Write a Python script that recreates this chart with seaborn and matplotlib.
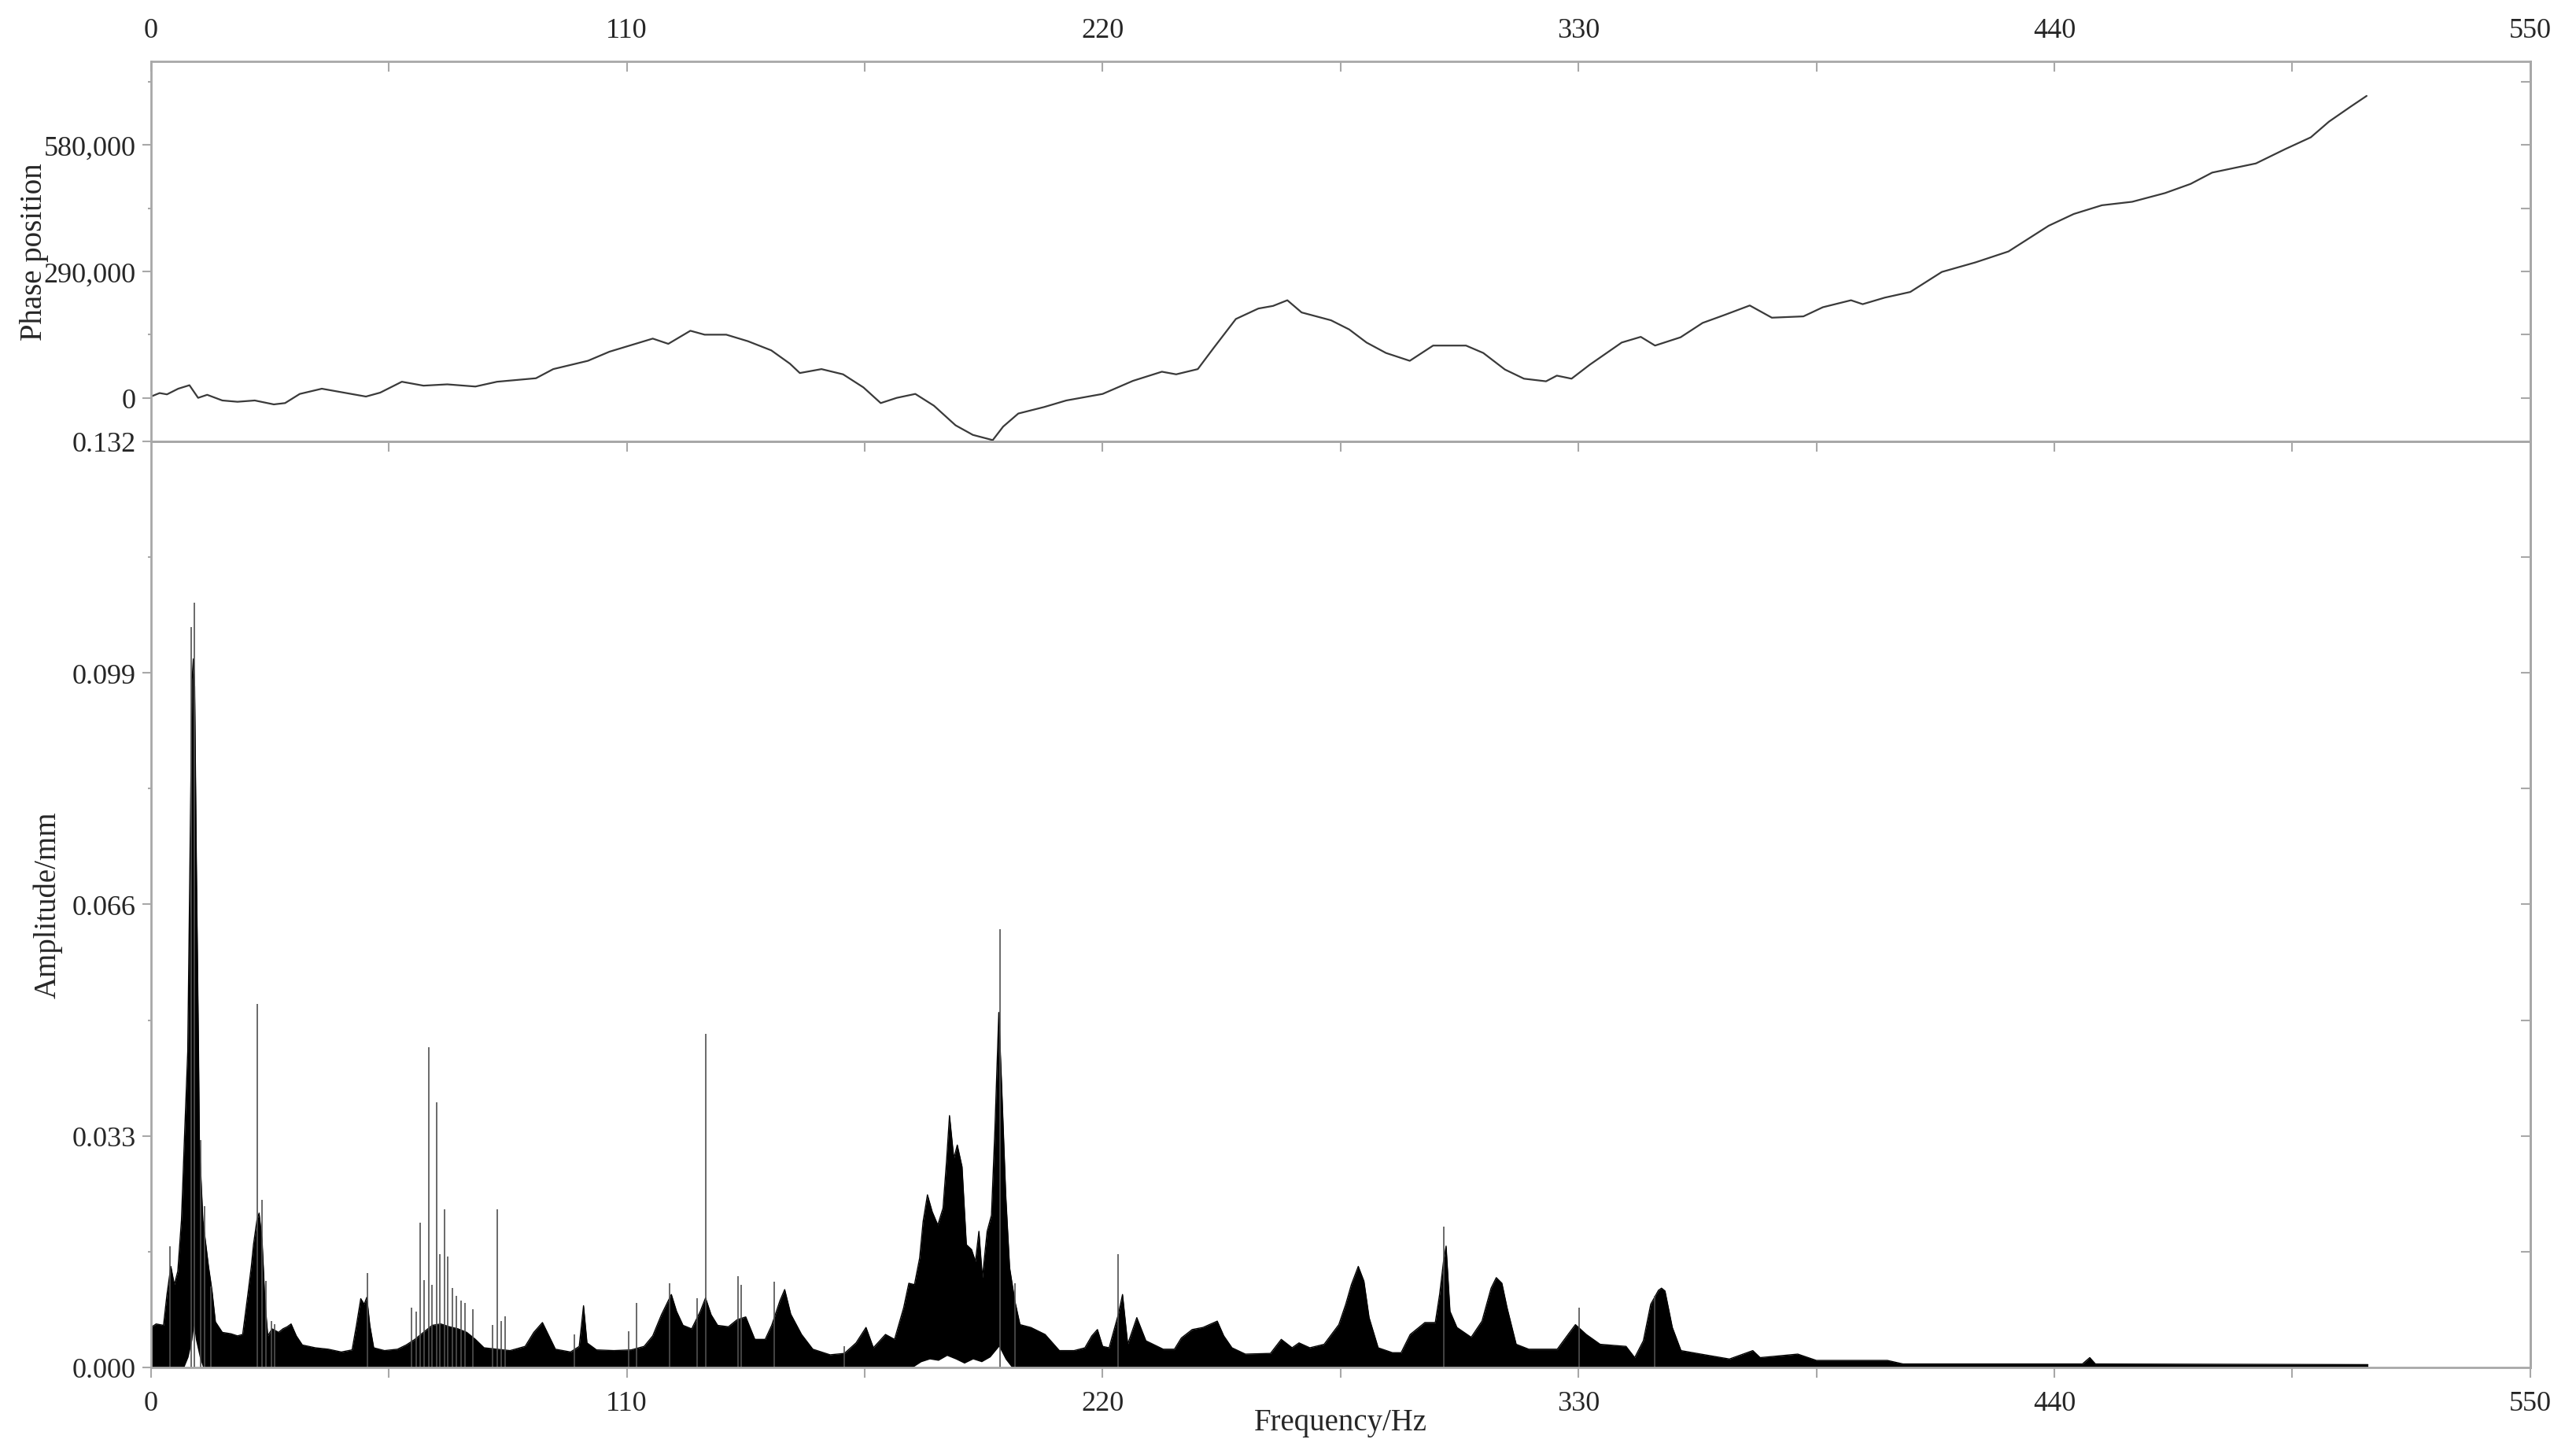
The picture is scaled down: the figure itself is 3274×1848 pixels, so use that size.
import numpy as np
import pandas as pd
import matplotlib
matplotlib.use('Agg')
import matplotlib.pyplot as plt
from matplotlib.ticker import FixedLocator, NullFormatter
import seaborn as sns

# ---- data ----
# phase curve (top panel)
phase_freq = [0, 2, 3.7, 6.3, 8.9, 10.9, 13, 16.5, 20, 24, 28.4, 31, 34.4, 39.5, 44.6, 49.7,
              53, 58, 63, 68.5, 75, 80, 89, 93, 101, 106, 111, 116, 119.6, 124.7, 128, 133,
              138, 143.4, 147.7, 150, 155, 160, 164.7, 168.7, 172.4, 176.7, 181, 186, 190,
              194.6, 197, 200.5, 206.5, 211.6, 220, 227, 233.7, 237, 242, 245.7, 250.8, 256,
              259.4, 262.7, 266, 272.8, 277, 281, 285.5, 291, 296.4, 304, 308, 313, 317.4,
              322.5, 325, 328.4, 332.6, 340, 344.4, 347.7, 353.6, 358.7, 363.7, 369.6, 374.7,
              382, 386.5, 393, 395.7, 400.8, 406.7, 414, 421.8, 429.4, 438.7, 444.5, 451, 458,
              465.6, 471.5, 476.5, 486.6, 493.4, 499.3, 503.5, 508.6, 512.2]
phase_val = [3000, 11000, 8000, 21000, 29000, 0, 7000, -6000, -9000, -6000, -15000, -12000,
             9000, 21000, 12000, 3000, 12000, 37000, 28000, 31000, 26000, 37000, 45000, 66000,
             85000, 106000, 121000, 136000, 124000, 154000, 145000, 145000, 130000, 109000,
             78500, 57000, 66000, 54000, 24000, -12000, 0, 9000, -18000, -63000, -85000,
             -97000, -66000, -36000, -21000, -6000, 9000, 39000, 60000, 54000, 66000, 115000,
             181000, 205000, 211000, 224000, 196000, 178000, 157000, 127000, 103000, 85000,
             120000, 120000, 103000, 65000, 44000, 38000, 51000, 44000, 76000, 127000, 140000,
             120000, 139000, 172000, 190000, 212000, 184000, 187000, 208000, 224000, 215000,
             230000, 243000, 289000, 311000, 336000, 395000, 422000, 442000, 450000, 470000,
             491000, 517000, 538000, 571000, 598000, 634000, 669000, 693000]

# amplitude spectrum: upper envelope of the dense black trace
env_freq = [0.0, 1.2, 2.9, 3.7, 4.6, 5.4, 6.2, 7.05, 7.7, 8.5, 9.0, 9.5, 9.8, 10.1, 10.5, 11.0,
            11.2, 12.0, 13.3, 14.1, 14.9, 16.5, 18.5, 20.0, 21.2, 22.4, 23.2, 23.7, 24.5, 25.0,
            25.7, 26.3, 27.0, 28.0, 29.5, 30.5, 31.5, 32.4, 33.6, 35.0, 38.0, 41.0, 44.0, 46.5,
            47.5, 48.5, 49.3, 49.9, 50.6, 51.5, 54.0, 57.0, 59.0, 61.0, 63.0, 65.0, 67.0, 69.0,
            71.0, 73.0, 75.0, 77.0, 80.0, 83.0, 86.5, 88.5, 90.5, 92.0, 93.5, 97.0, 99.0, 100.0,
            100.8, 103.0, 107.0, 111.0, 114.0, 116.0, 118.0, 120.3, 121.5, 123.0, 125.0, 127.0,
            128.2, 129.5, 131.0, 133.5, 135.5, 137.5, 139.6, 142.0, 143.5, 145.4, 146.5, 147.9,
            150.4, 153.0, 157.0, 160.3, 163.0, 165.3, 167.0, 169.8, 171.9, 174.0, 175.2, 176.5,
            177.7, 178.5, 179.5, 180.6, 181.9, 183.1, 183.9, 184.6, 185.6, 186.4, 187.5, 188.5,
            189.7, 190.6, 191.4, 192.2, 193.3, 194.3, 195.1, 196.0, 196.8, 197.6, 198.5, 199.7,
            200.9, 203.4, 206.7, 210.0, 213.4, 215.9, 217.5, 218.8, 220.0, 221.5, 223.6, 224.6,
            225.8, 227.9, 230.0, 234.0, 236.6, 238.2, 240.7, 243.2, 246.5, 248.0, 249.9, 253.0,
            258.8, 261.3, 263.8, 265.4, 267.9, 271.2, 272.9, 274.6, 276.2, 277.5, 279.1, 280.4,
            281.6, 283.7, 287.0, 289.0, 291.1, 294.5, 296.9, 297.9, 298.8, 299.4, 300.3, 301.9,
            305.2, 307.7, 309.8, 311.0, 312.3, 313.5, 315.6, 318.5, 325.1, 327.6, 329.3, 331.8,
            335.0, 341.0, 343.0, 345.0, 346.7, 348.5, 349.2, 350.0, 351.7, 353.7, 358.3, 364.9,
            370.3, 372.0, 380.7, 385.0, 401.4, 405.0, 446.5, 448.2, 449.5, 512.5]
env_amp = [0.0057, 0.0062, 0.0060, 0.0104, 0.0144, 0.0118, 0.0137, 0.021, 0.032, 0.045, 0.072,
           0.098, 0.101, 0.097, 0.072, 0.045, 0.032, 0.021, 0.0144, 0.011, 0.0065, 0.0050,
           0.0048, 0.0045, 0.0047, 0.0104, 0.0144, 0.0175, 0.021, 0.022, 0.018, 0.010, 0.0045,
           0.0055, 0.0050, 0.0055, 0.0058, 0.0062, 0.0045, 0.0032, 0.0028, 0.0026, 0.0022,
           0.0025, 0.0060, 0.0098, 0.0090, 0.0100, 0.0060, 0.0028, 0.0024, 0.0026, 0.0032,
           0.0040, 0.0050, 0.0060, 0.0062, 0.0058, 0.0055, 0.0050, 0.0040, 0.0028, 0.0026,
           0.0024, 0.0030, 0.0050, 0.0064, 0.0045, 0.0026, 0.0022, 0.0030, 0.0088, 0.0035,
           0.0025, 0.0024, 0.0025, 0.0030, 0.0045, 0.0075, 0.0104, 0.0080, 0.0060, 0.0055,
           0.0080, 0.0099, 0.0075, 0.0060, 0.0058, 0.0068, 0.0072, 0.0040, 0.0040, 0.0060,
           0.0095, 0.0111, 0.0076, 0.0047, 0.0026, 0.0018, 0.0020, 0.0035, 0.0057, 0.0028,
           0.0047, 0.0040, 0.0085, 0.012, 0.0118, 0.0156, 0.0208, 0.0246, 0.0222, 0.0203,
           0.0227, 0.0293, 0.0359, 0.0298, 0.0317, 0.0286, 0.0175, 0.0168, 0.0151, 0.0194,
           0.0128, 0.0194, 0.0217, 0.034, 0.0506, 0.0378, 0.0246, 0.0142, 0.0095, 0.0061,
           0.0057, 0.0047, 0.0024, 0.0024, 0.0028, 0.0045, 0.0054, 0.0030, 0.0028, 0.0075,
           0.0104, 0.0033, 0.0071, 0.0038, 0.0026, 0.0026, 0.0042, 0.0054, 0.0057, 0.0066,
           0.0045, 0.0028, 0.0019, 0.0020, 0.0040, 0.0028, 0.0035, 0.0028, 0.0033, 0.0047,
           0.0061, 0.0090, 0.0118, 0.0144, 0.0123, 0.0071, 0.0028, 0.0021, 0.0021, 0.0047,
           0.0064, 0.0064, 0.0104, 0.0151, 0.0173, 0.0080, 0.0057, 0.0043, 0.0066, 0.0113,
           0.0128, 0.0120, 0.0085, 0.0033, 0.0026, 0.0026, 0.0047, 0.0061, 0.0047, 0.0033,
           0.0030, 0.0014, 0.0038, 0.0090, 0.0110, 0.0113, 0.0109, 0.0057, 0.0024, 0.0019,
           0.0012, 0.0024, 0.0014, 0.0019, 0.0010, 0.0010, 0.0005, 0.0005, 0.0014, 0.0005,
           0.0004]

# white gaps under the biggest peaks (lower edge of the trace)
floor_freq = [0, 7.6, 8.6, 9.5, 9.9, 10.3, 11.2, 12.0, 176, 178, 180, 182, 184, 186, 188, 190,
              192, 194, 196, 197.5, 199, 512.5]
floor_amp = [0, 0, 0.0015, 0.004, 0.006, 0.004, 0.0015, 0, 0, 0.0008, 0.0012, 0.001, 0.0017,
             0.0012, 0.0006, 0.0012, 0.0008, 0.0015, 0.003, 0.0012, 0, 0]

# isolated thin spectral lines
spike_freq = [4.4, 9.3, 10.0, 11.4, 12.4, 13.9, 24.6, 25.7, 26.6, 27.8, 28.6, 50.0, 60.3, 61.4,
              62.2, 63.2, 64.2, 65.0, 66.0, 66.8, 67.8, 68.6, 69.7, 70.6, 71.6, 72.6, 74.4, 79.0,
              80.1, 80.9, 81.9, 97.9, 110.4, 112.2, 119.8, 126.2, 128.2, 135.8, 136.5, 144.0,
              160.3, 196.2, 199.7, 223.6, 298.8, 330.1, 347.7]
spike_amp = [0.0173, 0.1055, 0.109, 0.0324, 0.023, 0.0115, 0.0518, 0.0239, 0.0123, 0.0066,
             0.0062, 0.0135, 0.0085, 0.008, 0.0206, 0.0125, 0.0456, 0.0118, 0.0378, 0.0161,
             0.0225, 0.0158, 0.0113, 0.0102, 0.0095, 0.0092, 0.0083, 0.006, 0.0225, 0.0066,
             0.0073, 0.0047, 0.0052, 0.0092, 0.012, 0.0099, 0.0475, 0.013, 0.0118, 0.0122,
             0.003, 0.0625, 0.012, 0.0161, 0.0201, 0.0085, 0.0102]

freq_ticks = [0, 110, 220, 330, 440, 550]
phase_ticks = [0, 290000, 580000]
phase_labels = ['0', '290,000', '580,000']
amp_ticks = [0.0, 0.033, 0.066, 0.099, 0.132]
amp_labels = ['0.000', '0.033', '0.066', '0.099', '0.132']

# ---- style ----
sns.set_style('white')
plt.rcParams['font.family'] = ['Liberation Serif', 'DejaVu Serif']
plt.rcParams['font.size'] = 26
grey = '#a8a8a8'

fig = plt.figure(figsize=(32.74, 18.49), dpi=100)
ax_top = fig.add_axes([0.0586, 0.696, 0.9236, 0.2612])
ax_bot = fig.add_axes([0.0586, 0.0595, 0.9236, 0.6366])

for ax in (ax_top, ax_bot):
    for s in ax.spines.values():
        s.set_color(grey)
        s.set_linewidth(2)

# ---- top panel: phase ----
phase = pd.DataFrame({'freq': phase_freq, 'phase': phase_val})
sns.lineplot(data=phase, x='freq', y='phase', ax=ax_top, color='#3a3a3a', linewidth=1.6,
             estimator=None)
ax_top.set_xlim(0, 550)
ax_top.set_ylim(-100100, 772000)
ax_top.xaxis.tick_top()
ax_top.set_xticks(freq_ticks)
ax_top.set_xticks(np.arange(55, 550, 110), minor=True)
ax_top.tick_params(axis='x', which='both', direction='in', length=9, width=1.5, color=grey,
                   pad=17, labelsize=26, top=True, bottom=False, labeltop=True, labelbottom=False)
ax_top.set_yticks(phase_ticks)
ax_top.set_yticklabels(phase_labels)
ax_top.set_yticks([145000, 435000, 725000], minor=True)
ax_top.tick_params(axis='y', which='major', direction='out', length=8, width=1.5, color=grey,
                   pad=6, labelsize=26, left=True)
ax_top.tick_params(axis='y', which='minor', direction='out', length=3, width=1.5, color=grey,
                   left=True)
ax_top.set_xlabel('')
ax_top.set_ylabel('Phase position', fontsize=28)
ax_top.yaxis.set_label_coords(-0.043, 0.5)

sec = ax_top.secondary_yaxis('right')
sec.yaxis.set_major_locator(FixedLocator([0, 145000, 290000, 435000, 580000, 725000]))
sec.yaxis.set_major_formatter(NullFormatter())
sec.tick_params(direction='in', length=9, width=1.5, color=grey)
sec.spines['right'].set_color(grey)
sec.spines['right'].set_linewidth(2)

# ---- bottom panel: amplitude spectrum ----
ax_bot.fill_between(env_freq, 0, env_amp, color='black', linewidth=0)
spec = pd.DataFrame({'freq': env_freq, 'amp': env_amp})
sns.lineplot(data=spec, x='freq', y='amp', ax=ax_bot, color='black', linewidth=1.0,
             estimator=None)
ax_bot.fill_between(floor_freq, 0, floor_amp, color='white', linewidth=0)
ax_bot.vlines(spike_freq, 0, spike_amp, color='#505050', linewidth=1.2)

ax_bot.set_xlim(0, 550)
ax_bot.set_ylim(0, 0.132)
ax_bot.set_xticks(freq_ticks)
ax_bot.set_xticks(np.arange(55, 550, 110), minor=True)
ax_bot.tick_params(axis='x', which='both', direction='out', length=9, width=1.5, color=grey,
                   pad=12, labelsize=26, bottom=True)
ax_bot.set_yticks(amp_ticks)
ax_bot.set_yticklabels(amp_labels)
ax_bot.set_yticks(np.arange(0.0165, 0.132, 0.033), minor=True)
ax_bot.tick_params(axis='y', which='major', direction='out', length=8, width=1.5, color=grey,
                   pad=6, labelsize=26, left=True)
ax_bot.tick_params(axis='y', which='minor', direction='out', length=3, width=1.5, color=grey,
                   left=True)
ax_bot.set_xlabel('Frequency/Hz', fontsize=28)
ax_bot.xaxis.set_label_coords(0.5, -0.043)
ax_bot.set_ylabel('Amplitude/mm', fontsize=28)
ax_bot.yaxis.set_label_coords(-0.037, 0.5)

sec_r = ax_bot.secondary_yaxis('right')
sec_r.yaxis.set_major_locator(FixedLocator(np.arange(0.0165, 0.132, 0.0165)))
sec_r.yaxis.set_major_formatter(NullFormatter())
sec_r.tick_params(direction='in', length=9, width=1.5, color=grey)
sec_r.spines['right'].set_color(grey)
sec_r.spines['right'].set_linewidth(2)

sec_t = ax_bot.secondary_xaxis('top')
sec_t.xaxis.set_major_locator(FixedLocator(np.arange(55, 550, 55)))
sec_t.xaxis.set_major_formatter(NullFormatter())
sec_t.tick_params(direction='in', length=9, width=1.5, color=grey)
sec_t.spines['top'].set_color(grey)
sec_t.spines['top'].set_linewidth(2)

fig.savefig('out.png', dpi=100)
